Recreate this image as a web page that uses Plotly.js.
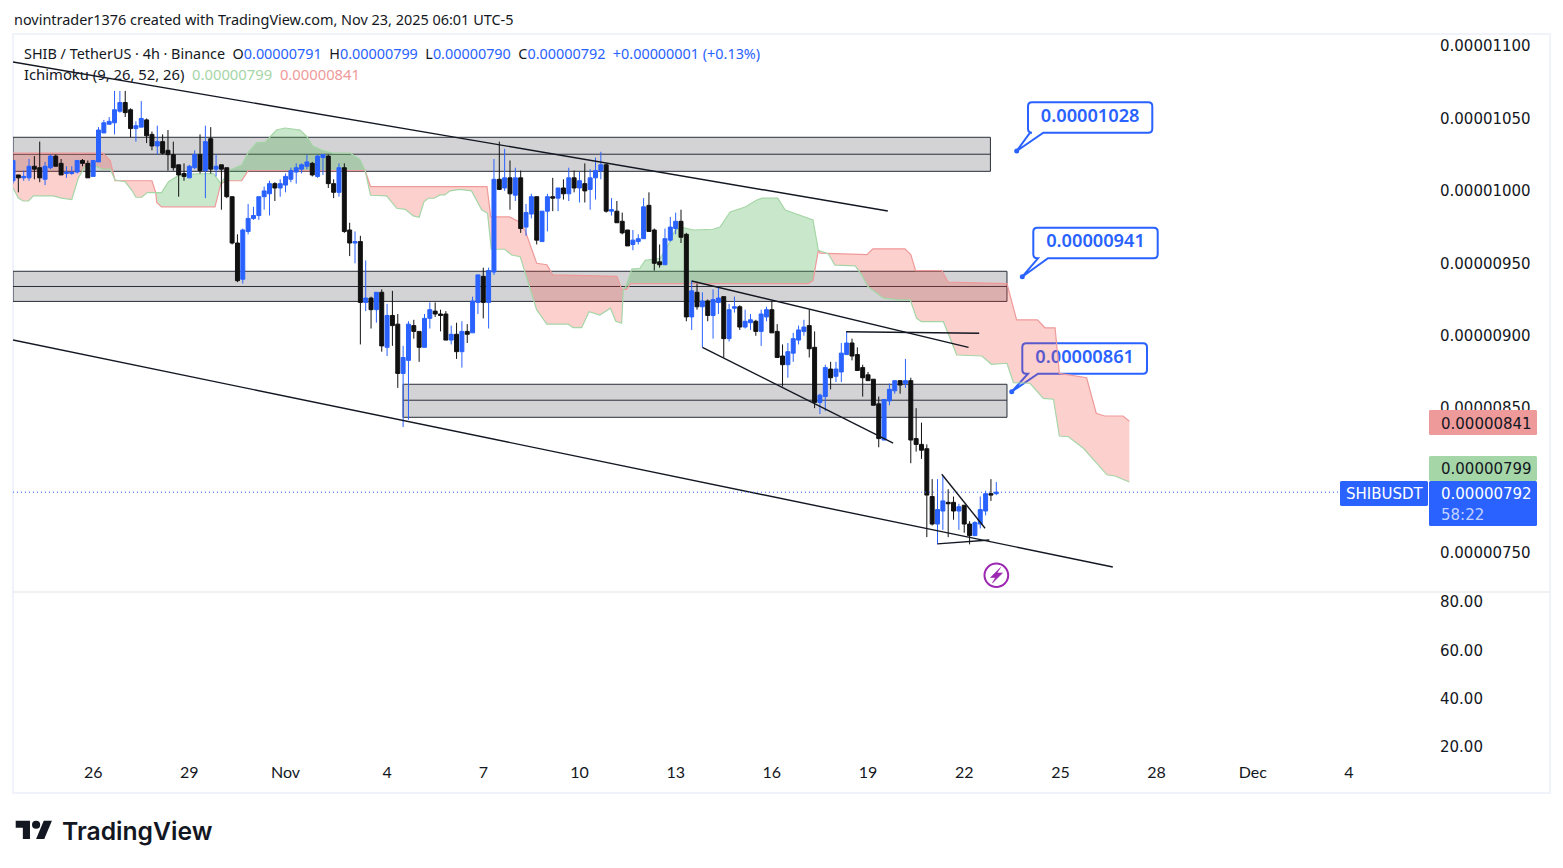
<!DOCTYPE html>
<html><head><meta charset="utf-8">
<script src="https://cdn.plot.ly/plotly-3.0.1.min.js"></script>
<style>html,body{margin:0;padding:0;background:#fff;overflow:hidden}#c{width:1563px;height:868px}</style>
</head><body><div id="c"></div>
<script>
// All prices are in units of 0.00000001 USDT. X positions are 4h candle numbers.
const open_=[1007,1011,1009,1009,1017,1016,1008,1016,1024,1019,
1012,1012,1013,1021,1019,1010,1020,1040,1046,1047,
1055,1061,1056,1043,1044,1049,1039,1031,1034,1028,
1025,1018,1012,1009,1016,1025,1014,1036,1015,1018,
1016,996,964,939,972,981,983,996,998,1005,
1002,1004,1008,1013,1015,1017,1019,1010,1023,1024,
1005,999,1016,973,964,965,923,926,918,930,
892,914,908,874,883,907,903,892,912,917,
915,915,897,901,889,903,902,923,941,923,
944,1008,1002,1009,997,1009,975,984,996,965,
986,996,995,1002,998,1009,1002,1005,1001,1009,
1014,1018,986,986,979,973,963,965,967,990,
973,951,949,966,974,979,970,913,930,920,
924,914,923,927,898,919,920,906,909,910,
903,913,918,903,886,880,888,897,903,907,
892,854,858,877,872,875,887,895,887,878,
873,870,853,828,855,862,869,867,869,829,
825,822,789,770,779,785,785,779,783,770,
762,770,779,791,791];
const high_=[1021,1011,1014,1022,1024,1034,1020,1025,1025,1022,
1017,1017,1021,1022,1021,1021,1044,1049,1051,1069,
1069,1069,1057,1048,1062,1050,1041,1045,1039,1042,
1034,1018,1019,1018,1028,1039,1045,1044,1025,1018,
1016,996,970,974,991,989,996,1003,1007,1006,
1008,1012,1016,1019,1019,1025,1020,1025,1025,1025,
1008,1019,1019,978,972,969,952,927,930,932,
922,931,915,893,910,911,903,915,923,923,
918,917,907,909,910,908,927,942,947,947,
1022,1034,1029,1021,1016,1014,991,998,996,986,
998,1009,1002,1008,1016,1014,1013,1019,1015,1023,
1027,1019,995,993,985,973,973,970,995,999,
974,963,974,982,985,987,971,938,936,930,
925,932,934,927,922,927,921,918,915,911,
918,920,924,908,894,895,902,907,911,918,
903,860,880,882,882,895,903,898,892,880,
875,870,858,856,867,869,869,884,871,850,
840,825,801,801,803,794,789,784,783,772,
772,789,793,801,799];
const low_=[1005,999,1007,1007,1008,1006,1004,1015,1017,1011,
1009,1011,1012,1017,1009,1010,1020,1040,1046,1039,
1054,1051,1037,1034,1044,1033,1028,1025,1025,1014,
1014,996,1007,1009,1015,1012,995,1012,1010,987,
995,963,937,936,970,980,980,987,983,993,
996,999,1006,1005,1012,1015,1010,1009,1011,1002,
995,996,971,955,950,894,917,905,909,889,
886,893,864,837,842,898,882,892,905,913,
903,897,894,884,878,895,902,915,912,905,
942,1001,1000,987,993,971,969,981,963,965,
972,986,986,994,993,999,992,992,987,994,
1008,985,983,978,970,962,959,963,967,972,
945,947,949,965,970,964,910,904,918,892,
910,898,915,885,896,916,904,905,904,900,
893,910,902,885,865,871,882,894,900,885,
850,846,848,863,868,868,887,883,876,858,
869,852,823,828,852,860,860,864,812,820,
815,761,769,756,766,761,773,766,764,756,
762,767,776,786,790];
const close_=[1021,1009,1010,1017,1015,1009,1017,1024,1017,1011,
1013,1013,1021,1019,1009,1021,1042,1047,1048,1056,
1061,1054,1043,1045,1050,1038,1031,1034,1026,1025,
1016,1011,1010,1017,1025,1014,1034,1015,1017,1015,
996,964,938,973,981,983,996,1000,1005,1002,
1005,1010,1014,1016,1018,1020,1011,1024,1025,1005,
999,1016,972,964,965,923,926,918,930,893,
914,907,874,885,908,903,892,912,918,915,
914,897,901,889,903,901,924,942,923,945,
1008,1001,1009,998,1009,974,985,996,966,986,
996,995,1002,998,1009,1002,1007,1000,1009,1014,
1018,986,987,978,971,962,966,967,989,972,
950,949,967,975,979,968,913,931,920,924,
914,925,926,898,918,920,906,910,911,903,
915,918,902,885,880,889,898,904,906,891,
854,859,878,871,877,888,895,886,876,871,
869,852,829,856,863,869,866,869,828,825,
821,790,770,780,786,784,779,782,770,762,
771,780,791,790,792];

// Ichimoku leading spans (candle number, price)
const spanBx=[0,16.8,18.2,19.1,26,26.7,26.9,27.8,37.8,38.9,40,42.8,44,65.9,66.9,88.7,89.4,92.9,94.5,95.8,98,99.9,101,113,113.9,114.2,114.8,115.6,148.8,149.7,150.7,151,159.8,160.9,166.9,168,168.9,173.8,175,186,187.8,191.7,193.1,195,195.8,200.9,202.7,204.3,207.7,208.9];
const spanBy=[1026,1026,1021,1007,1007,999,992,989,989,1005,1007,1007,1014,1014,1003,1003,982,982,979,973,950,949,942,941,932,932,932,936,936,938,959,957,956,960,960,956,945,945,937,936,911,911,905.5,905.5,874,871,846.5,844.6,844.6,841];
const spanAx=[0,1,1.9,2.9,3.8,7.5,9.1,11,12.2,13.5,15.7,16.6,18.2,19.1,21,22.2,23,24.1,25.1,26.7,27.8,29.1,31.3,37.5,38.9,40.6,42.8,44,45.6,47.2,49.3,50.9,53.7,55,56.1,57.8,59.9,63.1,64.9,65.9,66.9,69.9,71.8,73.4,74.9,76,76.9,77.7,78.8,79.9,80.8,81.8,83.6,85.8,87.7,88.8,89.5,92,93.3,94.9,98,99.9,103.9,104.8,106.4,107.8,109.8,111.8,112.8,113.9,114.2,114.7,115.8,117.3,118.3,121.1,122.6,123.9,125.4,127.3,131,132.3,134.2,137,139.2,140.2,143.1,144.5,149.7,150.7,152.6,153.8,157.6,158.8,160,162.9,166,167.9,169.1,170,174.1,176.6,181.3,183.1,186,187.2,190.3,192.8,194.7,195.8,197.5,200.3,202.8,204.7,206.2,208.9];
const spanAy=[1002,995,993,993,996.5,996.5,995,994,1008.7,1016.7,1016.7,1015,1015,1007.5,1006.3,1000.6,995.6,995.6,998.8,999,998.8,1006.3,1011.4,1012,1005,1014.4,1017.9,1026.4,1033.3,1033.7,1042,1043.4,1042,1037.4,1031,1028.2,1026,1026,1021.8,1014,997,996.5,988,987.3,982.7,981.8,992.5,994.9,994.9,997.2,997.2,1000,1001,1000,987,984.5,959.7,959.7,955.7,954.6,917.8,908,908,905.6,905.6,916.6,914.3,919,910,908.6,932,934,946,946.6,952,953.5,962.6,973,974.6,973,973.5,975,985.4,988.9,993.7,995,995,986.8,980,959,956.4,948.8,948.2,942,934,925.9,924.7,924.7,912,909.7,909.7,886.7,886,880.3,881,867.6,867.2,856.8,856.2,830.8,830.3,822.3,812,804,803.2,799];
const cloudCuts=[0,26.7,65.9,114.2,150.7,208.9];
const cloudGreen=[false,true,false,true,false];

// Support / resistance zones: first candle, last candle, top, middle, bottom
const zoneStart=[0,0,73];
const zoneEnd=[182.9,186,186];
const zoneTop=[1037,944.5,866.5];
const zoneMid=[1025.3,934,855.5];
const zoneBottom=[1013.5,923.7,843.7];

// Trend lines
const trendX0=[0,0,127,129,155.9,173.8,173];
const trendY0=[1089,897.1,937.8,892,902.8,804.4,756.3];
const trendX1=[163.7,205.8,178.8,164.7,180.8,181.9,182.7];
const trendY1=[986.1,740.4,892,825.8,901.7,767.1,759];

const priceTicks=[1100,1050,1000,950,900,850,750];
const rsiTicks=[80,60,40,20];
const dayTicks=[15,33,51,70,88,106,124,142,160,178,196,214,232,250];
const dayLabels=['26','29','Nov','4','7','10','13','16','19','22','25','28','Dec','4'];
const calloutPrices=['0.00001028','0.00000941','0.00000861'];
const lastPrice=792, ichiA=799, ichiB=841;

const BLUE='#2962ff',INK='#131722',RED='#ef9a9a',GRN='#a5d6a7';
const L=13,R=1428,T=34,B=755,SPLIT=592;
const px=x=>(x-L)/(R-L), py=y=>(B-y)/(B-T);
const yR=[723.1,1108.3], xR=[0,(R-L)/5.344];
const fmt=v=>(v*1e-8).toFixed(8);
const idx=open_.map((_,i)=>i);

function segPoly(xs,ys,a,b){const X=[],Y=[];xs.forEach((x,i)=>{if(x>=a&&x<=b){X.push(x);Y.push(ys[i]);}});return [X,Y];}
const traces=[];
cloudGreen.forEach((g,i)=>{
  const a=cloudCuts[i],b=cloudCuts[i+1];
  const [ax,ay]=segPoly(spanAx,spanAy,a,b), [bx,by]=segPoly(spanBx,spanBy,a,b);
  traces.push({type:'scatter',mode:'lines',x:ax.concat(bx.slice().reverse()),y:ay.concat(by.slice().reverse()),
    fill:'toself',fillcolor:g?'rgba(76,175,80,0.3)':'rgba(244,67,54,0.25)',line:{width:0},hoverinfo:'skip',showlegend:false,xaxis:'x',yaxis:'y'});
});
traces.push({type:'scatter',mode:'lines',x:spanBx,y:spanBy,line:{color:RED,width:1.2},hoverinfo:'skip',showlegend:false});
traces.push({type:'scatter',mode:'lines',x:spanAx,y:spanAy,line:{color:GRN,width:1.2},hoverinfo:'skip',showlegend:false});
traces.push({type:'candlestick',x:idx,open:open_,high:high_,low:low_,close:close_,xaxis:'x3',yaxis:'y3',
  increasing:{line:{color:BLUE,width:1},fillcolor:BLUE},decreasing:{line:{color:'#111',width:1},fillcolor:'#111'},
  whiskerwidth:0,hoverinfo:'skip',showlegend:false});
// empty trace so the lower pane axis exists
traces.push({type:'scatter',mode:'lines',x:[],y:[],xaxis:'x',yaxis:'y2',showlegend:false,hoverinfo:'skip'});

const shapes=[];
zoneStart.forEach((_,i)=>{
  shapes.push({type:'rect',layer:'below',xref:'x',yref:'y',x0:zoneStart[i],x1:zoneEnd[i],y0:zoneBottom[i],y1:zoneTop[i],fillcolor:'rgba(120,122,128,0.33)',line:{color:'#2a2e39',width:1}});
  shapes.push({type:'line',layer:'below',xref:'x',yref:'y',x0:zoneStart[i],x1:zoneEnd[i],y0:zoneMid[i],y1:zoneMid[i],line:{color:'#2a2e39',width:1}});
});
trendX0.forEach((_,i)=>shapes.push({type:'line',xref:'x',yref:'y',x0:trendX0[i],x1:trendX1[i],y0:trendY0[i],y1:trendY1[i],line:{color:INK,width:1.4}}));
shapes.push({type:'line',xref:'paper',yref:'y',x0:0,x1:px(1340),y0:lastPrice,y1:lastPrice,line:{color:BLUE,width:1,dash:'1px,3px'}});
// frame
shapes.push({type:'rect',xref:'paper',yref:'paper',x0:px(13),x1:px(1550),y0:py(34),y1:py(793),line:{color:'#f0f3fa',width:2},layer:'below'});
shapes.push({type:'line',xref:'paper',yref:'paper',x0:px(13),x1:px(1550),y0:py(592),y1:py(592),line:{color:'#e0e3eb',width:1},layer:'below'});

const P=(x,y)=>px(x).toFixed(6)+' '+py(y).toFixed(6);
function rr(x0,y0,x1,y1,r){return `M${P(x0+r,y0)} L${P(x1-r,y0)} Q${P(x1,y0)} ${P(x1,y0+r)} L${P(x1,y1-r)} Q${P(x1,y1)} ${P(x1-r,y1)} L${P(x0+r,y1)} Q${P(x0,y1)} ${P(x0,y1-r)} L${P(x0,y0+r)} Q${P(x0,y0)} ${P(x0+r,y0)} Z`;}
function callout(x0,y0,x1,y1,b0,b1,tx,ty,text){
  const r=4;
  const d=`M${P(x0+r,y0)} L${P(x1-r,y0)} Q${P(x1,y0)} ${P(x1,y0+r)} L${P(x1,y1-r)} Q${P(x1,y1)} ${P(x1-r,y1)} L${P(b1,y1)} L${P(tx,ty)} L${P(b0,y1)} L${P(x0+r,y1)} Q${P(x0,y1)} ${P(x0,y1-r)} L${P(x0,y0+r)} Q${P(x0,y0)} ${P(x0+r,y0)} Z`;
  shapes.push({type:'path',layer:'below',xref:'paper',yref:'paper',path:d,line:{color:BLUE,width:2}});
  shapes.push({type:'rect',layer:'below',xref:'paper',yref:'paper',x0:px(x0),x1:px(x1),y0:py(y0-2),y1:py(y1-2),line:{width:0},
    label:{text:text,font:{family:'"Noto Sans"',size:18.2,color:BLUE,weight:600},textposition:'middle center'}});
  shapes.push({type:'circle',layer:'below',xref:'paper',yref:'paper',x0:px(tx-2.5),x1:px(tx+2.5),y0:py(ty+2.5),y1:py(ty-2.5),fillcolor:BLUE,line:{width:0}});
}
callout(1028,102.3,1152.3,132.7,1030,1043.3,1016.7,151,calloutPrices[0]);
callout(1033.3,227.7,1157.7,258.3,1038,1048,1022.3,276.7,calloutPrices[1]);
callout(1022.3,343.3,1147,373.7,1028,1038,1011.7,391.7,calloutPrices[2]);

// price tags
const tag=(x0,y0,x1,y1,c)=>shapes.push({type:'path',xref:'paper',yref:'paper',path:rr(x0,y0,x1,y1,1.5),fillcolor:c,line:{width:0}});
tag(1429,410,1537,435,RED);
tag(1429,456,1537,481,GRN);
tag(1429,481,1537,526,BLUE);
tag(1340,481,1428,506,BLUE);

// lightning icon
shapes.push({type:'circle',xref:'paper',yref:'paper',x0:px(984.5),x1:px(1008.2),y0:py(587),y1:py(563.5),line:{color:'#9c27b0',width:2}});
const bolt=[[1000.5,567.5],[990.5,577.5],[995.5,577.5],[992.5,583],[1002.5,573],[997,573]];
shapes.push({type:'path',xref:'paper',yref:'paper',path:'M'+bolt.map(p=>P(p[0],p[1])).join(' L')+' Z',fillcolor:'#9c27b0',line:{color:'#9c27b0',width:0.6}});

// TradingView logo
const lx=u=>15.7+1.02*u, ly=v=>816.6+1.02*v;
const lp=a=>'M'+a.map(p=>P(lx(p[0]),ly(p[1]))).join(' L')+' Z';
shapes.push({type:'path',xref:'paper',yref:'paper',path:lp([[14,22],[7,22],[7,11],[0,11],[0,4],[14,4]]),fillcolor:'#131722',line:{width:0}});
shapes.push({type:'path',xref:'paper',yref:'paper',path:lp([[28,22],[20,22],[27.5,4],[35.5,4]]),fillcolor:'#131722',line:{width:0}});
shapes.push({type:'circle',xref:'paper',yref:'paper',x0:px(lx(16)),x1:px(lx(24)),y0:py(ly(12)),y1:py(ly(4)),fillcolor:'#131722',line:{width:0}});

const HF='"Noto Sans"';
const txt=(x,y,text,size,color,extra)=>Object.assign({xref:'paper',yref:'paper',x:px(x),y:py(y),text:text,showarrow:false,xanchor:'left',yanchor:'middle',align:'left',
  font:{family:HF,size:size,color:color},borderpad:0},extra||{});
const b=s=>`<span style="color:${BLUE}">${s}</span>`;
const sp='\u00a0\u00a0';
const DV=c=>({font:{family:'"DejaVu Sans"',size:15,color:c}});
const annotations=[
 txt(13,19,'novintrader1376 created with TradingView.com, Nov 23, 2025 06:01 UTC-5',14.45,INK),
 txt(22.5,54,`SHIB / TetherUS · 4h · Binance${sp}O${b('0.00000791')}${sp}H${b('0.00000799')}${sp}L${b('0.00000790')}${sp}C${b('0.00000792')}${sp}${b('+0.00000001 (+0.13%)')}`,14.4,INK),
 txt(22.5,74.5,`Ichimoku (9, 26, 52, 26)${sp}<span style="color:${GRN}">0.00000799</span>${sp}<span style="color:${RED}">0.00000841</span>`,14.8,INK),
 txt(1440,423.5,fmt(ichiB),15,INK,DV(INK)),
 txt(1440,469.5,fmt(ichiA),15,INK,DV(INK)),
 txt(1440,494.5,fmt(lastPrice),15,'#fff',DV('#fff')),
 txt(1440,514.5,'58:22',15,'#c3d3ff',DV('#c3d3ff')),
 txt(1345,494.5,'SHIBUSDT',15,'#fff',DV('#fff')),
 txt(61,831,'TradingView',24.7,'#131722',{font:{family:'Inter',size:24.7,color:'#131722',weight:600}})
];

const axisFont={family:'"DejaVu Sans"',size:15,color:INK};
const layout={width:1563,height:868,paper_bgcolor:'#fff',plot_bgcolor:'rgba(0,0,0,0)',showlegend:false,hovermode:false,dragmode:false,
 margin:{l:L,r:1563-R,t:T,b:868-B,pad:0},boxgap:0.26,boxgroupgap:0,boxmode:'overlay',
 xaxis:{range:xR,domain:[0,1],anchor:'y2',showgrid:false,zeroline:false,showline:false,ticks:'outside',ticklen:3,tickcolor:'rgba(0,0,0,0)',
   tickmode:'array',tickvals:dayTicks,ticktext:dayLabels,tickfont:{family:'Lato',size:16,color:INK}},
 xaxis3:{range:xR,overlaying:'x',anchor:'y3',visible:false,rangeslider:{visible:false},showgrid:false,zeroline:false},
 yaxis:{range:yR,domain:[(B-SPLIT)/(B-T),1],side:'right',anchor:'x',showgrid:false,zeroline:false,showline:false,ticks:'outside',ticklen:8,tickcolor:'rgba(0,0,0,0)',
   tickmode:'array',tickvals:priceTicks,ticktext:priceTicks.map(fmt),tickfont:axisFont},
 yaxis3:{range:yR,overlaying:'y',anchor:'x3',side:'right',visible:false,showgrid:false,zeroline:false},
 yaxis2:{range:[16.7,84.1],domain:[0,(B-SPLIT)/(B-T)],side:'right',anchor:'x',showgrid:false,zeroline:false,showline:false,ticks:'outside',ticklen:8,tickcolor:'rgba(0,0,0,0)',
   tickmode:'array',tickvals:rsiTicks,ticktext:rsiTicks.map(v=>v.toFixed(2)),tickfont:axisFont},
 shapes:shapes,annotations:annotations};
Plotly.newPlot('c',traces,layout,{displayModeBar:false,staticPlot:true});
</script></body></html>
